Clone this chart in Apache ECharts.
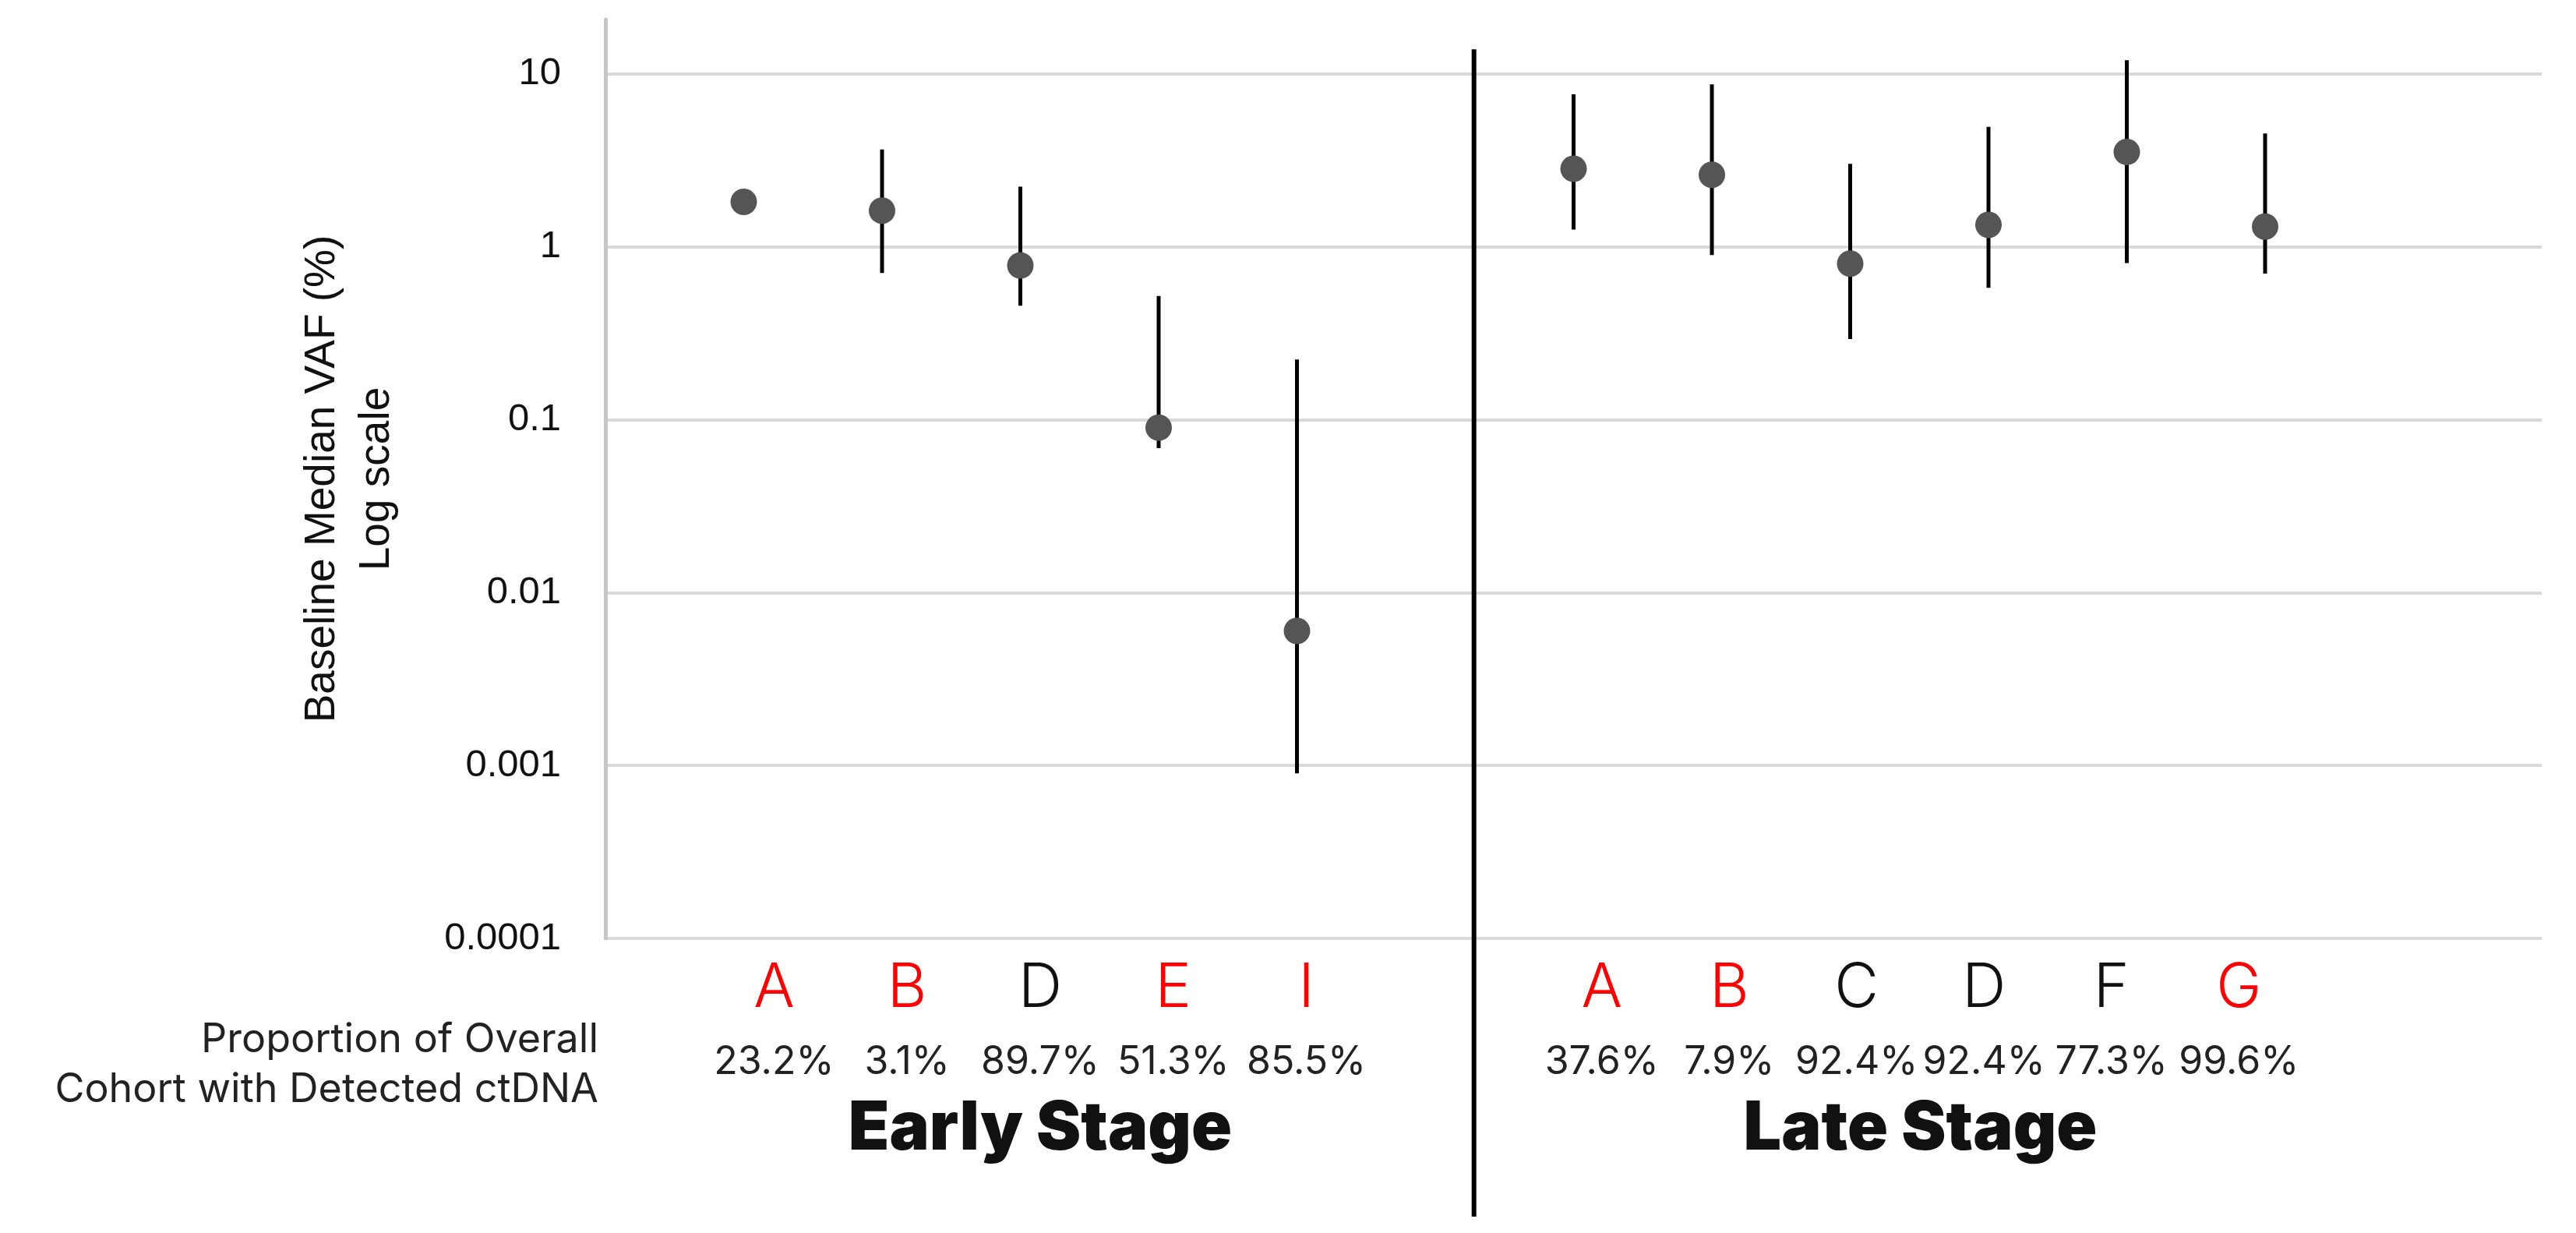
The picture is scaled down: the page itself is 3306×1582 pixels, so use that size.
<!DOCTYPE html>
<html>
<head>
<meta charset="utf-8">
<script src="https://cdn.jsdelivr.net/npm/echarts@6/dist/echarts.min.js"></script>
<style>
html,body{margin:0;padding:0;background:#fff;}
#chart{width:3306px;height:1582px;}
</style>
</head>
<body>
<div id="chart"></div>
<script>
// ---- data ----
const EARLY_CATS = ['A', 'B', 'D', 'E', 'I'];
const EARLY_PCT = ['23.2%', '3.1%', '89.7%', '51.3%', '85.5%'];
const EARLY_RED = [true, true, false, true, true];
const EARLY_SLOT = [1, 2, 3, 4, 5];
const EARLY_MEDIAN = [1.82, 1.62, 0.78, 0.09, 0.006];
const EARLY_LOW = [null, 0.705, 0.456, 0.0685, 0.0009];
const EARLY_HIGH = [null, 3.66, 2.23, 0.52, 0.223];

const LATE_CATS = ['A', 'B', 'C', 'D', 'F', 'G'];
const LATE_PCT = ['37.6%', '7.9%', '92.4%', '92.4%', '77.3%', '99.6%'];
const LATE_RED = [true, true, false, false, false, true];
const LATE_SLOT = [7, 8, 9, 10, 11, 12];
const LATE_MEDIAN = [2.83, 2.61, 0.80, 1.34, 3.54, 1.31];
const LATE_LOW = [1.26, 0.896, 0.293, 0.58, 0.805, 0.70];
const LATE_HIGH = [7.63, 8.71, 3.02, 4.94, 12.0, 4.52];

const Y_TICK_LABELS = ['0.0001', '0.001', '0.01', '0.1', '1', '10'];
const Y_MIN = 0.0001;
const Y_MAX = 20.65;
const SLOT_MAX = 14;
const DIVIDER_SLOT = 6.28;
const DIVIDER_TOP = 13.9;

// ---- build ----
const points = [];
const bars = [];
function addGroup(slots, med, lo, hi) {
  slots.forEach((s, i) => {
    points.push([s, med[i]]);
    if (lo[i] != null && hi[i] != null) bars.push([s, lo[i], hi[i]]);
  });
}
addGroup(EARLY_SLOT, EARLY_MEDIAN, EARLY_LOW, EARLY_HIGH);
addGroup(LATE_SLOT, LATE_MEDIAN, LATE_LOW, LATE_HIGH);

const GRID_TOP = 25, GRID_BOTTOM = 378;
const richStyle = {
  r: {color: '#ff0000', fontSize: 78, fontWeight: 300, fontFamily: 'Inter', lineHeight: 96},
  k: {color: '#111111', fontSize: 78, fontWeight: 300, fontFamily: 'Inter', lineHeight: 96},
  p: {color: '#222222', fontSize: 50, fontFamily: 'Inter', lineHeight: 92}
};
function labelAxis(idx, cats, pct, red, name) {
  return {
    type: 'category', gridIndex: idx, data: cats, position: 'bottom',
    axisLine: {show: false}, axisTick: {show: false}, splitLine: {show: false},
    axisLabel: {
      interval: 0, margin: 17,
      formatter: (v, i) => '{' + (red[i] ? 'r' : 'k') + '|' + v + '}\n{p|' + pct[i] + '}',
      rich: richStyle
    },
    name: name, nameLocation: 'middle', nameGap: 202,
    nameTextStyle: {fontFamily: 'Inter', fontWeight: 900, fontSize: 86, color: '#111'}
  };
}

const chart = echarts.init(document.getElementById('chart'), null, {renderer: 'canvas'});
chart.setOption({
  animation: false,
  backgroundColor: '#ffffff',
  grid: [
    {left: 777, right: 44, top: GRID_TOP, bottom: GRID_BOTTOM},
    {left: 908, width: 854, top: GRID_TOP, bottom: GRID_BOTTOM},
    {left: 1974, width: 981, top: GRID_TOP, bottom: GRID_BOTTOM}
  ],
  xAxis: [
    {type: 'value', gridIndex: 0, min: 0, max: SLOT_MAX, show: false},
    labelAxis(1, EARLY_CATS, EARLY_PCT, EARLY_RED, 'Early Stage'),
    labelAxis(2, LATE_CATS, LATE_PCT, LATE_RED, 'Late Stage')
  ],
  yAxis: [
    {
      type: 'log', gridIndex: 0, logBase: 10, min: Y_MIN, max: Y_MAX, interval: 1,
      axisLine: {show: true, lineStyle: {color: '#c6c6c6', width: 5}},
      axisTick: {show: false},
      splitLine: {show: true, showMaxLine: false, lineStyle: {color: '#d9d9d9', width: 4}},
      axisLabel: {
        showMaxLabel: false, margin: 57, fontSize: 49, color: '#111',
        fontFamily: 'Liberation Sans, Arial, sans-serif',
        formatter: (v) => {
          const e = Math.log10(v);
          const r = Math.round(e);
          if (Math.abs(e - r) > 0.01) return '';
          return Y_TICK_LABELS[r + 4] || '';
        }
      },
      name: 'Baseline Median VAF (%)\nLog scale',
      nameLocation: 'middle', nameGap: 258, nameRotate: 90,
      nameTextStyle: {fontFamily: 'Liberation Sans, Arial, sans-serif', fontSize: 55, lineHeight: 70, color: '#111', align: 'center'}
    },
    {type: 'value', gridIndex: 1, show: false},
    {type: 'value', gridIndex: 2, show: false}
  ],
  series: [
    {
      type: 'custom', xAxisIndex: 0, yAxisIndex: 0, data: bars, z: 2,
      encode: {x: 0, y: [1, 2]},
      renderItem: (params, api) => {
        const p1 = api.coord([api.value(0), api.value(1)]);
        const p2 = api.coord([api.value(0), api.value(2)]);
        return {type: 'line', shape: {x1: p1[0], y1: p1[1], x2: p2[0], y2: p2[1]},
                style: {stroke: '#000', lineWidth: 5}};
      }
    },
    {
      type: 'scatter', xAxisIndex: 0, yAxisIndex: 0, data: points, z: 3,
      symbol: 'circle', symbolSize: 34, itemStyle: {color: '#555555', opacity: 1}
    }
  ]
});

const dx = chart.convertToPixel({xAxisIndex: 0}, DIVIDER_SLOT);
const dyTop = chart.convertToPixel({yAxisIndex: 0}, DIVIDER_TOP);
chart.setOption({
  graphic: [
    {
      type: 'text', x: 768, y: 1366,
      style: {
        text: 'Proportion of Overall\nCohort with Detected ctDNA',
        align: 'right', verticalAlign: 'middle', lineHeight: 64,
        font: '52px Inter', fill: '#222'
      }
    },
    {
      type: 'line', z: 10,
      shape: {x1: dx, y1: dyTop, x2: dx, y2: 1561},
      style: {stroke: '#000', lineWidth: 6}
    }
  ]
});
</script>
</body>
</html>
